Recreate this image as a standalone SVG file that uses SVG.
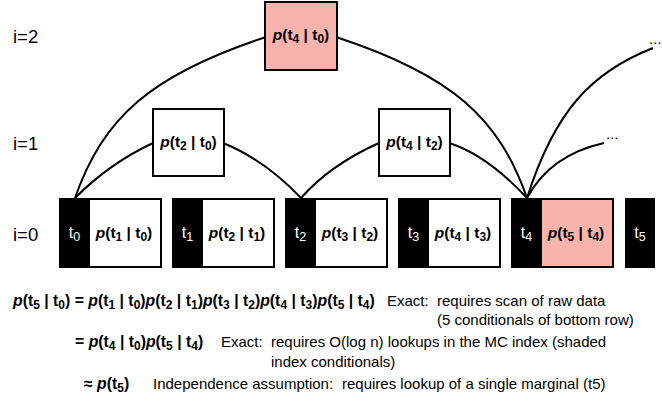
<svg xmlns="http://www.w3.org/2000/svg" width="662" height="408" viewBox="0 0 662 408">
<style>
text{font-family:"Liberation Sans",Arial,sans-serif;fill:#000}
.p{font-weight:bold;font-size:15.5px}
.f{font-weight:bold;font-size:15.8px}
.i{font-style:italic}
.s{font-size:12px}
.tw{fill:#fff;font-size:16px}
.tw .s{font-size:12.5px}
.lev{font-size:18.5px}
.r{font-size:15px}
.box{fill:#fff;stroke:#000;stroke-width:2}
.pink{fill:#F8B4AC}
.blk{fill:#000}
.c{fill:none;stroke:#000;stroke-width:2}
</style>
<rect width="662" height="408" fill="#fff"/>
<g id="levels">
<text class="lev" x="13" y="43">i=2</text>
<text class="lev" x="13" y="150">i=1</text>
<text class="lev" x="13" y="241">i=0</text>
</g>
<g id="connectors">
<path class="c" d="M75,198 Q110,163 153,143"/>
<path class="c" d="M75,198 C103,118 150,75 266,37"/>
<path class="c" d="M223,143 Q265,160 301,198"/>
<path class="c" d="M301,198 Q330,165 379,143"/>
<path class="c" d="M449,143 Q487,155 527,198"/>
<path class="c" d="M336,37 C452,75 499,118 527,198"/>
<path class="c" d="M527,198 Q550,155 604,143"/>
<path class="c" d="M527,198 C555,110 592,72 653,48"/>
</g>
<g id="n_t4_t0">
<rect class="box pink" x="265" y="2" width="72" height="68"/>
<text class="p" x="301" y="40" text-anchor="middle"><tspan class="i">p</tspan>(t<tspan class="s" dy="3">4</tspan><tspan dy="-3"> | t</tspan><tspan class="s" dy="3">0</tspan><tspan dy="-3">)</tspan></text>
</g>
<g id="n_t2_t0">
<rect class="box" x="153" y="109" width="71" height="67"/>
<text class="p" x="188.5" y="147" text-anchor="middle"><tspan class="i">p</tspan>(t<tspan class="s" dy="3">2</tspan><tspan dy="-3"> | t</tspan><tspan class="s" dy="3">0</tspan><tspan dy="-3">)</tspan></text>
</g>
<g id="n_t4_t2">
<rect class="box" x="379" y="109" width="71" height="67"/>
<text class="p" x="414.5" y="147" text-anchor="middle"><tspan class="i">p</tspan>(t<tspan class="s" dy="3">4</tspan><tspan dy="-3"> | t</tspan><tspan class="s" dy="3">2</tspan><tspan dy="-3">)</tspan></text>
</g>
<g id="n0">
<rect class="box" x="60" y="199" width="101" height="68"/>
<rect class="blk" x="59" y="198" width="31" height="70"/>
<text class="tw" x="74.5" y="238" text-anchor="middle">t<tspan class="s" dy="3">0</tspan></text>
<text class="p" x="124" y="238" text-anchor="middle"><tspan class="i">p</tspan>(t<tspan class="s" dy="3">1</tspan><tspan dy="-3"> | t</tspan><tspan class="s" dy="3">0</tspan><tspan dy="-3">)</tspan></text>
</g>
<g id="n1">
<rect class="box" x="173" y="199" width="101" height="68"/>
<rect class="blk" x="172" y="198" width="31" height="70"/>
<text class="tw" x="187.5" y="238" text-anchor="middle">t<tspan class="s" dy="3">1</tspan></text>
<text class="p" x="237" y="238" text-anchor="middle"><tspan class="i">p</tspan>(t<tspan class="s" dy="3">2</tspan><tspan dy="-3"> | t</tspan><tspan class="s" dy="3">1</tspan><tspan dy="-3">)</tspan></text>
</g>
<g id="n2">
<rect class="box" x="286" y="199" width="101" height="68"/>
<rect class="blk" x="285" y="198" width="31" height="70"/>
<text class="tw" x="300.5" y="238" text-anchor="middle">t<tspan class="s" dy="3">2</tspan></text>
<text class="p" x="350" y="238" text-anchor="middle"><tspan class="i">p</tspan>(t<tspan class="s" dy="3">3</tspan><tspan dy="-3"> | t</tspan><tspan class="s" dy="3">2</tspan><tspan dy="-3">)</tspan></text>
</g>
<g id="n3">
<rect class="box" x="399" y="199" width="101" height="68"/>
<rect class="blk" x="398" y="198" width="31" height="70"/>
<text class="tw" x="413.5" y="238" text-anchor="middle">t<tspan class="s" dy="3">3</tspan></text>
<text class="p" x="463" y="238" text-anchor="middle"><tspan class="i">p</tspan>(t<tspan class="s" dy="3">4</tspan><tspan dy="-3"> | t</tspan><tspan class="s" dy="3">3</tspan><tspan dy="-3">)</tspan></text>
</g>
<g id="n4">
<rect class="box pink" x="512" y="199" width="101" height="68"/>
<rect class="blk" x="511" y="198" width="31" height="70"/>
<text class="tw" x="526.5" y="238" text-anchor="middle">t<tspan class="s" dy="3">4</tspan></text>
<text class="p" x="576" y="238" text-anchor="middle"><tspan class="i">p</tspan>(t<tspan class="s" dy="3">5</tspan><tspan dy="-3"> | t</tspan><tspan class="s" dy="3">4</tspan><tspan dy="-3">)</tspan></text>
</g>
<g id="n5">
<rect class="blk" x="625" y="198" width="30" height="70"/>
<text class="tw" x="640" y="238" text-anchor="middle">t<tspan class="s" dy="3">5</tspan></text>
</g>
<g id="ellipses">
<text class="r" x="606" y="139">...</text>
<text class="r" x="649" y="44">...</text>
</g>
<g id="formulas">
<text class="f" x="13" y="306"><tspan class="i">p</tspan>(t<tspan class="s" dy="3">5</tspan><tspan dy="-3"> | t</tspan><tspan class="s" dy="3">0</tspan><tspan dy="-3">) = </tspan><tspan class="i">p</tspan>(t<tspan class="s" dy="3">1</tspan><tspan dy="-3"> | t</tspan><tspan class="s" dy="3">0</tspan><tspan dy="-3">)</tspan><tspan class="i">p</tspan>(t<tspan class="s" dy="3">2</tspan><tspan dy="-3"> | t</tspan><tspan class="s" dy="3">1</tspan><tspan dy="-3">)</tspan><tspan class="i">p</tspan>(t<tspan class="s" dy="3">3</tspan><tspan dy="-3"> | t</tspan><tspan class="s" dy="3">2</tspan><tspan dy="-3">)</tspan><tspan class="i">p</tspan>(t<tspan class="s" dy="3">4</tspan><tspan dy="-3"> | t</tspan><tspan class="s" dy="3">3</tspan><tspan dy="-3">)</tspan><tspan class="i">p</tspan>(t<tspan class="s" dy="3">5</tspan><tspan dy="-3"> | t</tspan><tspan class="s" dy="3">4</tspan><tspan dy="-3">)</tspan></text>
<text class="r" x="387" y="306">Exact:</text>
<text class="r" x="437" y="306">requires scan of raw data</text>
<text class="r" x="437" y="325">(5 conditionals of bottom row)</text>
<text class="f" x="75" y="347">= <tspan class="i">p</tspan>(t<tspan class="s" dy="3">4</tspan><tspan dy="-3"> | t</tspan><tspan class="s" dy="3">0</tspan><tspan dy="-3">)</tspan><tspan class="i">p</tspan>(t<tspan class="s" dy="3">5</tspan><tspan dy="-3"> | t</tspan><tspan class="s" dy="3">4</tspan><tspan dy="-3">)</tspan></text>
<text class="r" x="221" y="347">Exact:</text>
<text class="r" x="271" y="347">requires O(log n) lookups in the MC index (shaded</text>
<text class="r" x="271" y="367">index conditionals)</text>
<text class="f" x="84" y="389">≈ <tspan class="i">p</tspan>(t<tspan class="s" dy="3">5</tspan><tspan dy="-3">)</tspan></text>
<text class="r" x="153" y="389">Independence assumption:</text>
<text class="r" x="342" y="389">requires lookup of a single marginal (t5)</text>
</g>
</svg>
